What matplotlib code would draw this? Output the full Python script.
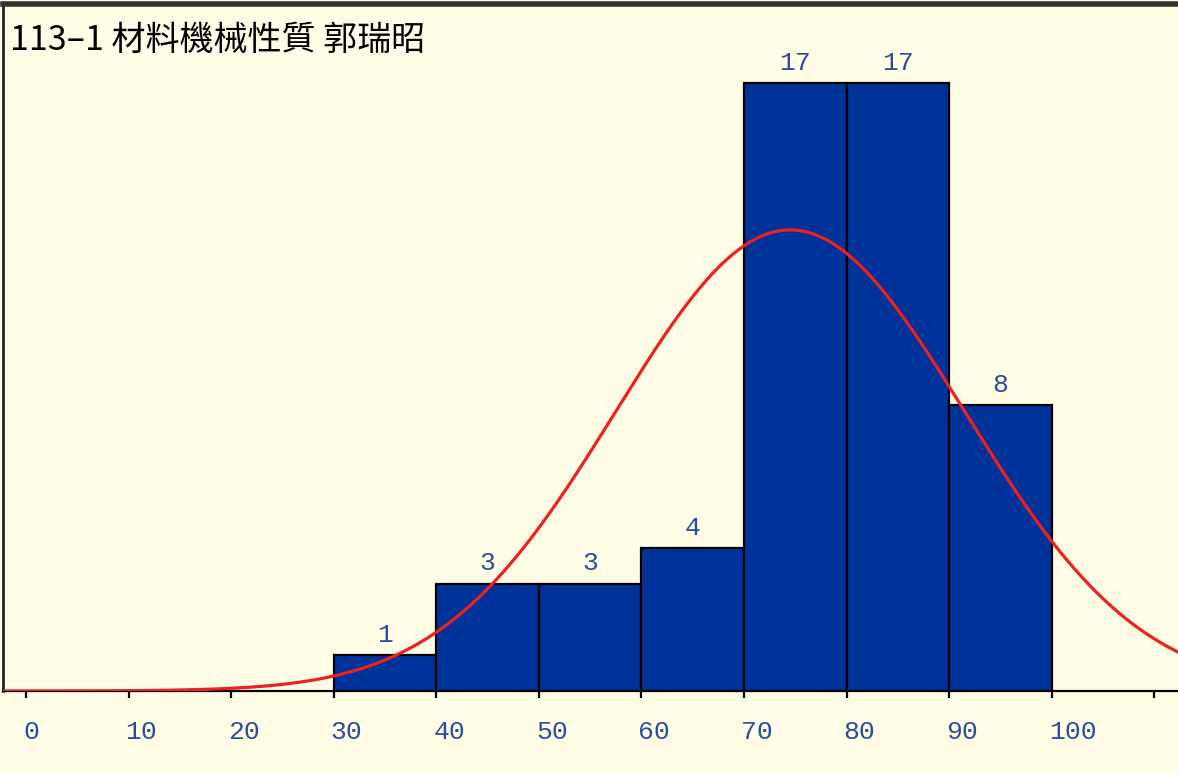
import numpy as np
import matplotlib
matplotlib.use("Agg")
import matplotlib.pyplot as plt
from matplotlib.transforms import ScaledTranslation

title = "113\u20131 材料機械性質 郭瑞昭"
bin_left = [30, 40, 50, 60, 70, 80, 90]
counts = [1, 3, 3, 4, 17, 17, 8]
bin_width = 10
xticks = [0, 10, 20, 30, 40, 50, 60, 70, 80, 90, 100, 110]
xticklabels = ["0", "10", "20", "30", "40", "50", "60", "70", "80", "90", "100", ""]
curve_mean = 74.5
curve_sd = 17.0
curve_peak = 12.9

bg = "#fffde6"
bar_color = "#003399"
label_color = "#2a4d9c"

W, H = 1178, 773
fig = plt.figure(figsize=(W / 100, H / 100), dpi=100, facecolor=bg)
ax = fig.add_axes([3 / W, 1 - 691 / H, 1 - 3 / W, (691 - 4) / H])
ax.set_facecolor(bg)

ax.bar(bin_left, counts, width=bin_width, align="edge", color=bar_color,
       edgecolor="black", linewidth=1.6, zorder=2)
for x, c in zip(bin_left, counts):
    ax.annotate(str(c), (x + bin_width / 2, c), xytext=(0, 6), textcoords="offset points",
                ha="center", va="bottom", color=label_color, fontsize=19,
                family="Liberation Mono", zorder=4)

xs = np.linspace(-3, 113, 600)
ys = curve_peak * np.exp(-0.5 * ((xs - curve_mean) / curve_sd) ** 2)
ax.plot(xs, ys, color="#ee2020", lw=2.3, zorder=3, clip_on=True)

ax.set_xlim(-2.24, 112.3)
ax.set_ylim(0, 19.22)
ax.set_xticks(xticks)
ax.set_xticklabels([])
ax.tick_params(axis="x", direction="out", length=5, width=1.6, color="black")
lbl_tr = ax.get_xaxis_transform() + ScaledTranslation(-3 / 100, -41 / 100, fig.dpi_scale_trans)
for t, s in zip(xticks, xticklabels):
    ax.text(t, 0, s, transform=lbl_tr, ha="left", va="center", family="Liberation Mono",
            fontsize=19, color=label_color, clip_on=False)
ax.set_yticks([])
ax.spines["right"].set_visible(False)
ax.spines["left"].set_linewidth(2)
ax.spines["left"].set_color("#222222")
ax.spines["top"].set_linewidth(4)
ax.spines["top"].set_color("#333333")
ax.spines["bottom"].set_linewidth(1.6)
ax.spines["bottom"].set_color("black")

fig.text(10 / W, 1 - 40 / H, title, ha="left", va="center", fontsize=24.5,
         family=["Noto Sans CJK TC", "DejaVu Sans"], color="black")

fig.savefig("out.png", dpi=100, facecolor=bg)
